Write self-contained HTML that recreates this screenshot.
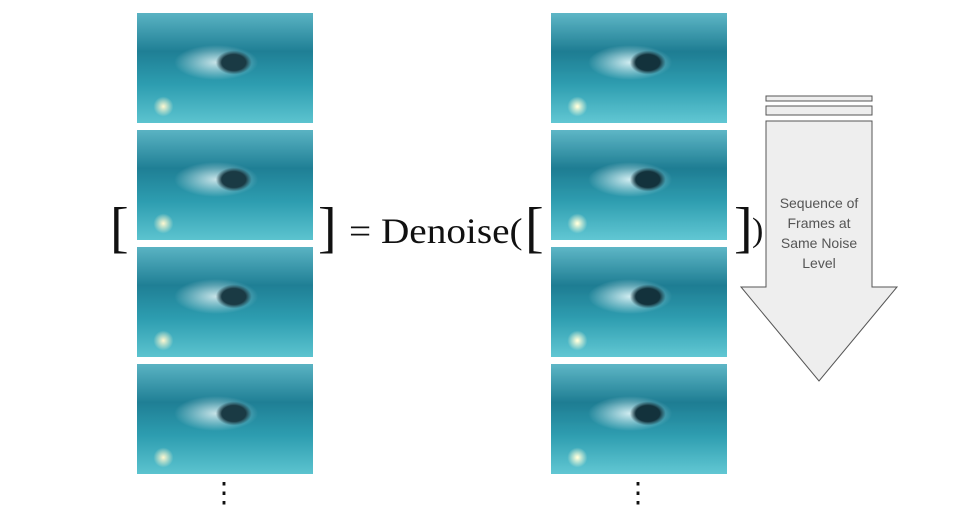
<!DOCTYPE html>
<html><head><meta charset="utf-8"><style>
body{margin:0;width:972px;height:515px;background:#fff;position:relative;overflow:hidden;font-family:"Liberation Sans",sans-serif}
.f{position:absolute;width:176px;height:110px;background:radial-gradient(ellipse 30px 20px at 55% 45%,#1a3a44 40%,transparent 60%),radial-gradient(ellipse 60px 25px at 45% 45%,rgba(240,250,250,.8),transparent 70%),radial-gradient(circle 10px at 15% 85%,#fff8d0,transparent),linear-gradient(#5ab3c3 0%,#1f7f95 35%,#2d9db0 65%,#5cc3cf 100%)}
.t{position:absolute;font-family:"Liberation Serif",serif;color:#111}
</style></head><body>
<div class="f" style="left:137px;top:13px"></div>
<div class="f" style="left:137px;top:130px"></div>
<div class="f" style="left:137px;top:247px"></div>
<div class="f" style="left:137px;top:364px"></div>
<div class="f" style="left:551px;top:13px;filter:contrast(1.1) saturate(.9)"></div>
<div class="f" style="left:551px;top:130px;filter:contrast(1.1) saturate(.9)"></div>
<div class="f" style="left:551px;top:247px;filter:contrast(1.1) saturate(.9)"></div>
<div class="f" style="left:551px;top:364px;filter:contrast(1.1) saturate(.9)"></div>
<div class="t" style="left:110px;top:196px;font-size:56px">[</div>
<div class="t" style="left:318px;top:196px;font-size:56px">]</div>
<div class="t" style="left:349px;top:210px;font-size:36px;transform:scaleX(1.09);transform-origin:left">= Denoise(</div>
<div class="t" style="left:525px;top:196px;font-size:56px">[</div>
<div class="t" style="left:734px;top:196px;font-size:56px">]</div>
<div class="t" style="left:752px;top:212px;font-size:34px">)</div>
<div class="t" style="left:210px;top:476px;font-size:28px">⋮</div>
<div class="t" style="left:624px;top:476px;font-size:28px">⋮</div>
<svg style="position:absolute;left:0;top:0" width="972" height="515">
<rect x="766" y="96" width="106" height="5" fill="#eee" stroke="#555"/>
<rect x="766" y="106" width="106" height="9" fill="#eee" stroke="#555"/>
<polygon points="766,121 872,121 872,287 897,287 819,381 741,287 766,287" fill="#eee" stroke="#555"/>
<g font-family="Liberation Sans" font-size="14" fill="#555" text-anchor="middle">
<text x="819" y="208">Sequence of</text><text x="819" y="228">Frames at</text><text x="819" y="248">Same Noise</text><text x="819" y="268">Level</text></g>
</svg>
</body></html>
